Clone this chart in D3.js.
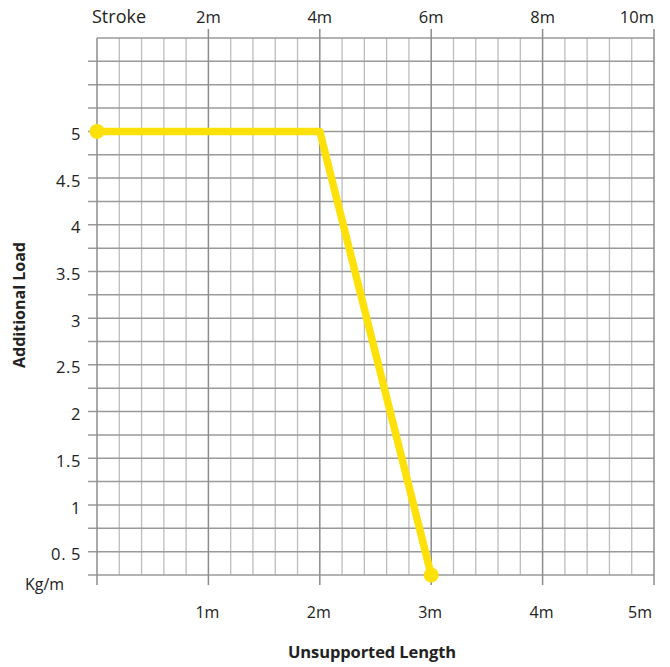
<!DOCTYPE html>
<html>
<head>
<meta charset="utf-8">
<script src="https://cdn.jsdelivr.net/npm/d3@7"></script>
<style>
  html, body { margin: 0; padding: 0; background: #fff; }
  svg { display: block; font-family: "Open Sans", sans-serif; }
</style>
</head>
<body>
<svg id="chart" width="670" height="667"></svg>
<script>
// ---- data ----
const lengthTicks = [1, 2, 3, 4, 5];               // Unsupported Length (m)
const lengthLabels = ["1m", "2m", "3m", "4m", "5m"];
const strokeTicks = [2, 4, 6, 8, 10];              // Stroke (m)
const strokeLabels = ["2m", "4m", "6m", "8m", "10m"];
const loadTicks = [0.5, 1, 1.5, 2, 2.5, 3, 3.5, 4, 4.5, 5];
const loadLabels = ["0. 5", "1", "1.5", "2", "2.5", "3", "3.5", "4", "4.5", "5"];
const seriesLength = [0, 2, 3];
const seriesLoad = [5, 5, 0.25];

(function () {
// ---- layout ----
const gLeft = 97, gRight = 654, gTop = 38, gBottom = 575;
const svg = d3.select("#chart");

const x = d3.scaleLinear().domain([0, 5]).range([gLeft, gRight]);
const xTop = d3.scaleLinear().domain([0, 10]).range([gLeft, gRight]);
const y = d3.scaleLinear().domain([0.25, 6]).range([gBottom, gTop]);

const minorX = d3.range(0, 5.0001, 0.2).map(v => +v.toFixed(2));
const gridY = d3.range(0.25, 6.0001, 0.25).map(v => +v.toFixed(2));

const grid = svg.append("g");

// vertical minor lines
grid.selectAll("line.vminor")
  .data(minorX.filter(v => Math.abs(v - Math.round(v)) > 1e-6))
  .join("line")
  .attr("x1", d => x(d)).attr("x2", d => x(d))
  .attr("y1", gTop).attr("y2", gBottom)
  .attr("stroke", "#bdbdbd").attr("stroke-width", 1.3);

// horizontal lines (extend left as ticks, except the top border)
grid.selectAll("line.h")
  .data(gridY)
  .join("line")
  .attr("x1", d => d === 6 ? gLeft : gLeft - 9)
  .attr("x2", gRight)
  .attr("y1", d => y(d)).attr("y2", d => y(d))
  .attr("stroke", "#9a9a9a").attr("stroke-width", 1.5);

// vertical major lines (at each metre), extend above/below as ticks
grid.selectAll("line.vmajor")
  .data([0, 1, 2, 3, 4, 5])
  .join("line")
  .attr("x1", d => x(d)).attr("x2", d => x(d))
  .attr("y1", d => d === 0 ? gTop : gTop - 9)
  .attr("y2", gBottom + 10)
  .attr("stroke", "#8c8c8c").attr("stroke-width", 1.5);

// ---- axis labels ----
const txt = "#222";

// top (Stroke) axis
svg.append("text")
  .attr("x", gLeft - 5).attr("y", 23)
  .attr("font-size", 18).attr("fill", txt)
  .text("Stroke");
svg.append("g").selectAll("text")
  .data(strokeTicks)
  .join("text")
  .attr("x", d => xTop(d))
  .attr("y", 23)
  .attr("text-anchor", (d, i) => i === strokeTicks.length - 1 ? "end" : "middle")
  .attr("font-size", 16.5).attr("fill", txt)
  .text((d, i) => strokeLabels[i]);

// bottom (length) axis
svg.append("g").selectAll("text")
  .data(lengthTicks)
  .join("text")
  .attr("x", (d, i) => i === lengthTicks.length - 1 ? x(d) - 2 : x(d) - 1)
  .attr("y", 618)
  .attr("text-anchor", (d, i) => i === lengthTicks.length - 1 ? "end" : "middle")
  .attr("font-size", 16).attr("fill", txt)
  .text((d, i) => lengthLabels[i]);

// left (load) axis
svg.append("g").selectAll("text")
  .data(loadTicks)
  .join("text")
  .attr("x", 81)
  .attr("y", d => y(d))
  .attr("dy", "0.52em")
  .attr("text-anchor", "end")
  .attr("font-size", 16.5).attr("letter-spacing", 0.6).attr("fill", txt)
  .text((d, i) => loadLabels[i]);

svg.append("text")
  .attr("x", 25).attr("y", 590)
  .attr("font-size", 16).attr("fill", txt)
  .text("Kg/m");

svg.append("text")
  .attr("x", 372).attr("y", 658)
  .attr("text-anchor", "middle")
  .attr("font-size", 16.5).attr("font-weight", "bold").attr("fill", txt)
  .attr("letter-spacing", -0.1)
  .text("Unsupported Length");

svg.append("text")
  .attr("transform", "translate(25,305) rotate(-90)")
  .attr("text-anchor", "middle")
  .attr("font-size", 16).attr("font-weight", "bold").attr("fill", txt)
  .text("Additional Load");

// ---- series ----
const pts = seriesLength.map((v, i) => [v, seriesLoad[i]]);
const line = d3.line().x(d => x(d[0])).y(d => y(d[1]));
const yellow = "#ffe10a";

svg.append("path")
  .attr("d", line(pts))
  .attr("fill", "none")
  .attr("stroke", yellow)
  .attr("stroke-width", 7.5)
  .attr("stroke-linejoin", "round");

svg.selectAll("circle.end")
  .data([pts[0], pts[pts.length - 1]])
  .join("circle")
  .attr("cx", d => x(d[0])).attr("cy", d => y(d[1]))
  .attr("r", 7.5)
  .attr("fill", yellow);
})();
</script>
</body>
</html>
